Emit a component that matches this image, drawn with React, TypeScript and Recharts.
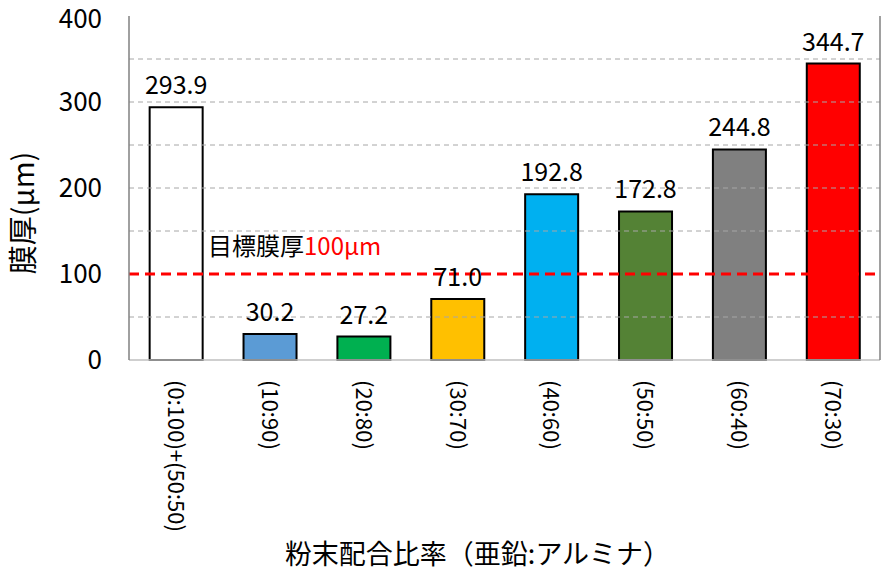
import React from 'react';
import {
  BarChart,
  Bar,
  Cell,
  XAxis,
  YAxis,
  ReferenceLine,
  LabelList,
} from 'recharts';

const categories = [
  '(0:100)+(50:50)',
  '(10:90)',
  '(20:80)',
  '(30:70)',
  '(40:60)',
  '(50:50)',
  '(60:40)',
  '(70:30)',
];
const thickness = [293.9, 30.2, 27.2, 71.0, 192.8, 172.8, 244.8, 344.7];
const barColors = ['#FFFFFF', '#5B9BD5', '#00B050', '#FFC000', '#00B0F0', '#548235', '#808080', '#FF0000'];
const yTicks = [0, 100, 200, 300, 400];
const gridValues = [50, 150, 200, 250, 300, 350];
const targetValue = 100;

const data = categories.map((name, i) => ({ name, value: thickness[i] }));

const FONT = '"Noto Sans CJK JP", "Noto Sans", sans-serif';

const RotatedTick = ({ x, y, payload }: any) => (
  <text
    x={0}
    y={0}
    transform={`translate(${x - 8}, ${y + 12}) rotate(90)`}
    textAnchor="start"
    fontSize={22}
    fontFamily={FONT}
    fill="#000"
  >
    {payload.value}
  </text>
);

const TargetLabel = ({ viewBox }: any) => (
  <text x={viewBox.x + 79} y={viewBox.y - 19} fontSize={24} fontFamily={FONT} fill="#000">
    目標膜厚<tspan fill="#FF0000">{targetValue}μm</tspan>
  </text>
);

export default function App() {
  return (
    <div style={{ position: 'absolute', left: 0, top: 0, background: '#fff', fontFamily: FONT }}>
      <BarChart
        width={883}
        height={576}
        data={data}
        margin={{ top: 16, right: 2, left: 0, bottom: 0 }}
        barCategoryGap="22%"
      >
        {gridValues.map((v) => (
          <ReferenceLine key={v} y={v} stroke="#a6a6a6" strokeDasharray="5 4" strokeWidth={1} />
        ))}
        <XAxis
          dataKey="name"
          interval={0}
          height={216}
          tickLine={false}
          axisLine={{ stroke: '#bfbfbf', strokeWidth: 1.5 }}
          tick={<RotatedTick />}
          label={{
            content: ({ viewBox }: any) => (
              <text
                x={viewBox.x + viewBox.width / 2 - 27}
                y={viewBox.y + viewBox.height - 12}
                textAnchor="middle"
                fontSize={27}
                fontFamily={FONT}
                fill="#000"
              >
                粉末配合比率（亜鉛:アルミナ）
              </text>
            ),
          }}
        />
        <XAxis xAxisId="top" orientation="top" dataKey="name" height={0} tick={false} tickLine={false} axisLine={{ stroke: '#808080', strokeWidth: 1.5 }} />
        <YAxis
          domain={[0, 400]}
          ticks={yTicks}
          width={129}
          tickLine={false}
          tickMargin={21}
          axisLine={{ stroke: '#808080', strokeWidth: 1.5 }}
          tick={{ fontSize: 26, fill: '#000', fontFamily: FONT }}
          label={{
            content: ({ viewBox }: any) => (
              <text
                x={0}
                y={0}
                transform={`translate(${viewBox.x + 34}, ${viewBox.y + viewBox.height / 2 + 25}) rotate(-90)`}
                textAnchor="middle"
                fontSize={29}
                fontFamily={FONT}
                fill="#000"
              >
                膜厚(μm)
              </text>
            ),
          }}
        />
        <YAxis yAxisId="right" orientation="right" width={1} domain={[0, 400]} tick={false} tickLine={false} axisLine={{ stroke: '#808080', strokeWidth: 1.5 }} />
        <Bar dataKey="value" stroke="#000" strokeWidth={2} isAnimationActive={false}>
          {data.map((d, i) => (
            <Cell key={d.name} fill={barColors[i]} />
          ))}
          <LabelList
            dataKey="value"
            position="top"
            offset={13}
            formatter={(v: any) => Number(v).toFixed(1)}
            style={{ fontSize: 25, fill: '#000', fontFamily: FONT }}
          />
        </Bar>
        <ReferenceLine
          y={targetValue}
          stroke="#FF0000"
          strokeWidth={3}
          strokeDasharray="10 6"
          label={<TargetLabel />}
        />
      </BarChart>
    </div>
  );
}
